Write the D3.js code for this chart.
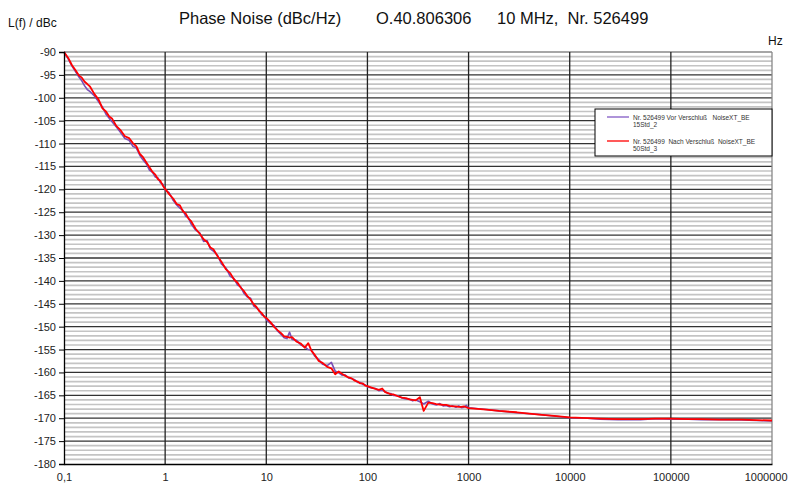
<!DOCTYPE html>
<html>
<head>
<meta charset="utf-8">
<script src="https://cdn.jsdelivr.net/npm/d3@7"></script>
<style>
  html, body { margin: 0; padding: 0; background: #fff; }
  svg { display: block; font-family: "Liberation Sans", Arial, sans-serif; }
</style>
</head>
<body>
<svg id="chart" width="788" height="484"></svg>
<script>
// ---------------- data ----------------
const titleParts = ["Phase Noise (dBc/Hz)", "O.40.806306", "10 MHz,  Nr. 526499"];
const yLabel = "L(f) / dBc";
const xUnit = "Hz";

const xTickValues = [0.1, 1, 10, 100, 1000, 10000, 100000, 1000000];
const xTickLabels = ["0,1", "1", "10", "100", "1000", "10000", "100000", "1000000"];
const yTickValues = [-90, -95, -100, -105, -110, -115, -120, -125, -130, -135, -140, -145, -150, -155, -160, -165, -170, -175, -180];

const seriesNames = [
  ["Nr. 526499 Vor Verschluß   NoiseXT_BE", "15Std_2"],
  ["Nr. 526499  Nach Verschluß  NoiseXT_BE", "50Std_3"]
];

const freq = [
  0.1, 0.11, 0.12, 0.13, 0.14, 0.15, 0.16, 0.17, 0.18, 0.2, 0.22, 0.24, 0.26, 0.28, 0.3, 0.33, 0.36, 0.4, 0.44, 0.48, 0.52, 0.56, 0.6, 0.65, 0.7, 0.75, 0.8, 0.85, 0.9, 0.95, 1,
  1.1, 1.2, 1.3, 1.4, 1.5, 1.6, 1.7, 1.8, 2, 2.2, 2.4, 2.6, 2.8, 3, 3.3, 3.6, 4, 4.4, 4.8, 5.2, 5.6, 6, 6.5, 7, 7.5, 8, 8.5, 9, 9.5, 10,
  11, 12, 13, 14, 15, 16, 17, 18, 20, 22, 24, 26, 28, 30, 33, 36, 40, 44, 48, 52, 56, 60, 65, 70, 75, 80, 85, 90, 95, 100,
  110, 120, 130, 140, 150, 160, 170, 180, 200, 220, 240, 260, 280, 300, 330, 360, 400, 440, 480, 520, 560, 600, 650, 700, 750, 800, 850, 900, 950, 1000,
  1500, 2000, 3000, 5000, 7000, 10000, 15000, 20000, 30000, 50000, 70000, 100000, 150000, 200000, 300000, 500000, 700000, 1000000
];

const vorValues = [
  -90.0, -91.5, -93.1, -94.3, -95.4, -96.3, -97.4, -98.2, -98.6, -99.6, -100.9, -102.0, -103.6, -104.5, -105.3, -106.4, -107.5, -108.9, -109.3, -110.6, -111.0, -112.5, -113.5, -114.4, -115.8, -116.3, -117.3, -117.5, -118.6, -118.9, -120.1,
  -120.8, -122.4, -123.4, -124.1, -124.6, -125.9, -126.2, -127.5, -128.9, -129.5, -131.4, -131.2, -133.0, -133.5, -134.4, -136.3, -137.2, -139.0, -139.5, -140.9, -141.3, -142.7, -143.5, -143.8, -145.5, -145.9, -146.4, -147.4, -147.6, -148.5,
  -149.3, -149.8, -151.0, -151.7, -152.4, -152.6, -151.2, -152.8, -153.0, -154.0, -154.4, -155.0, -155.1, -156.4, -157.2, -158.2, -158.5, -157.8, -159.7, -160.1, -160.6, -160.5, -161.2, -161.4, -161.6, -162.2, -162.2, -162.6, -162.7, -163.1,
  -163.4, -163.5, -164.0, -163.9, -164.2, -164.6, -164.6, -165.0, -165.1, -165.6, -165.8, -165.8, -166.2, -166.0, -166.4, -166.9, -166.3, -166.9, -167.1, -166.8, -167.3, -167.2, -167.5, -167.3, -167.6, -167.3, -167.7, -167.6, -167.2, -167.7,
  -168.1, -168.4, -168.8, -169.2, -169.5, -169.9, -170.0, -170.2, -170.3, -170.3, -170.1, -170.2, -170.2, -170.3, -170.3, -170.4, -170.5, -170.6
];

const nachValues = [
  -90.0, -91.3, -92.9, -94.0, -95.1, -95.6, -96.5, -97.0, -97.5, -99.2, -100.4, -102.3, -103.0, -104.1, -104.6, -106.2, -107.0, -108.4, -108.8, -109.9, -110.6, -112.2, -112.9, -114.1, -115.2, -116.2, -116.8, -117.8, -118.2, -119.2, -119.9,
  -121.1, -122.0, -123.2, -123.5, -124.8, -125.3, -126.4, -126.9, -128.6, -129.7, -130.9, -131.5, -132.7, -133.1, -134.6, -135.8, -137.5, -138.3, -139.7, -140.4, -141.5, -142.2, -143.3, -144.1, -145.1, -145.7, -146.6, -147.0, -147.8, -148.1,
  -149.0, -150.1, -150.8, -151.4, -152.1, -152.2, -152.4, -152.3, -153.3, -153.7, -154.6, -153.6, -155.3, -156.1, -157.5, -157.9, -158.8, -159.1, -160.4, -159.8, -160.3, -160.7, -161.1, -161.3, -161.8, -162.0, -162.4, -162.4, -162.9, -163.0,
  -163.3, -163.6, -163.8, -163.5, -164.3, -164.5, -164.8, -164.8, -165.2, -165.5, -165.6, -165.9, -166.0, -166.1, -165.4, -168.4, -166.6, -166.7, -166.9, -167.0, -167.1, -167.1, -167.3, -167.4, -167.4, -167.5, -167.5, -167.4, -167.6, -167.8,
  -168.1, -168.4, -168.7, -169.2, -169.5, -169.8, -170.0, -170.1, -170.2, -170.2, -170.1, -170.1, -170.2, -170.2, -170.3, -170.3, -170.4, -170.5
];

const seriesColors = ["#7a4fb5", "#ff0000"];

// ---------------- drawing ----------------
const svg = d3.select("#chart");
const plotLeft = 64, plotRight = 772, plotTop = 52, plotBottom = 464;

const x = d3.scaleLog().domain([0.1, 1000000]).range([plotLeft, plotRight]);
const y = d3.scaleLinear().domain([-180, -90]).range([plotBottom, plotTop]);

// minor horizontal grid (1 dB)
const minor = d3.range(-179, -90, 1).filter(v => v % 5 !== 0);
svg.append("g").selectAll("line").data(minor).join("line")
  .attr("x1", plotLeft).attr("x2", plotRight)
  .attr("y1", d => y(d)).attr("y2", d => y(d))
  .attr("stroke", "#c4c4c4").attr("stroke-width", 1.7);

// major horizontal grid
svg.append("g").selectAll("line").data(yTickValues.filter(v => v > -180)).join("line")
  .attr("x1", plotLeft).attr("x2", plotRight)
  .attr("y1", d => y(d)).attr("y2", d => y(d))
  .attr("stroke", d => d === -90 ? "#888" : "#333").attr("stroke-width", 1.3);

// vertical decade grid
svg.append("g").selectAll("line").data(xTickValues.slice(1)).join("line")
  .attr("x1", d => x(d)).attr("x2", d => x(d))
  .attr("y1", plotTop).attr("y2", plotBottom)
  .attr("stroke", d => d === 1000000 ? "#888" : "#222").attr("stroke-width", 1.3);

// series
const line = d3.line().x(d => x(d[0])).y(d => y(d[1]));
[vorValues, nachValues].forEach((vals, i) => {
  svg.append("path")
    .datum(freq.map((f, j) => [f, vals[j]]))
    .attr("d", line)
    .attr("fill", "none")
    .attr("stroke", seriesColors[i])
    .attr("stroke-width", i === 0 ? 1.6 : 1.8)
    .attr("stroke-linejoin", "round");
});

// axes
const yAxis = d3.axisLeft(y).tickValues(yTickValues).tickSize(5).tickPadding(3).tickFormat(d => String(d));
const gy = svg.append("g").attr("transform", `translate(${plotLeft},0)`).call(yAxis);
gy.select(".domain").attr("stroke", "#000").attr("stroke-width", 1.3);
gy.selectAll(".tick line").attr("stroke", "#000");
gy.selectAll("text").attr("font-size", 11).attr("fill", "#222")
  .attr("font-family", "Liberation Sans, Arial, sans-serif");

const xAxis = d3.axisBottom(x).tickValues(xTickValues).tickSize(0).tickPadding(9)
  .tickFormat((d, i) => xTickLabels[i]);
const gx = svg.append("g").attr("transform", `translate(0,${plotBottom})`).call(xAxis);
gx.select(".domain").attr("stroke", "#000").attr("stroke-width", 1.3);
gx.selectAll("text").attr("font-size", 11).attr("fill", "#222")
  .attr("font-family", "Liberation Sans, Arial, sans-serif");
// keep the last label inside the picture
gx.selectAll(".tick").filter(d => d === 1000000).select("text")
  .attr("text-anchor", "end").attr("x", 787 - plotRight);

// titles
const titleX = [179, 376, 497];
titleParts.forEach((t, i) => {
  svg.append("text").attr("x", titleX[i]).attr("y", 24)
    .attr("font-size", 16.5).attr("fill", "#111").style("white-space", "pre").text(t);
});
svg.append("text").attr("x", 8).attr("y", 27).attr("font-size", 12).attr("fill", "#111").text(yLabel);
svg.append("text").attr("x", 768).attr("y", 45).attr("font-size", 12).attr("fill", "#111").text(xUnit);

// legend
const lg = svg.append("g");
lg.append("rect").attr("x", 595).attr("y", 109).attr("width", 177).attr("height", 47)
  .attr("fill", "#fff").attr("stroke", "#000").attr("stroke-width", 1);
seriesNames.forEach((nm, i) => {
  const yy = 117 + i * 24;
  lg.append("line").attr("x1", 607).attr("x2", 629).attr("y1", yy).attr("y2", yy)
    .attr("stroke", i === 0 ? "#9a7ad0" : "#ff3030").attr("stroke-width", 1.6);
  nm.forEach((t, k) => {
    lg.append("text").attr("x", 633).attr("y", yy + 3 + k * 7)
      .attr("font-size", 6.5).attr("fill", "#333").style("white-space", "pre").text(t);
  });
});
</script>
</body>
</html>
